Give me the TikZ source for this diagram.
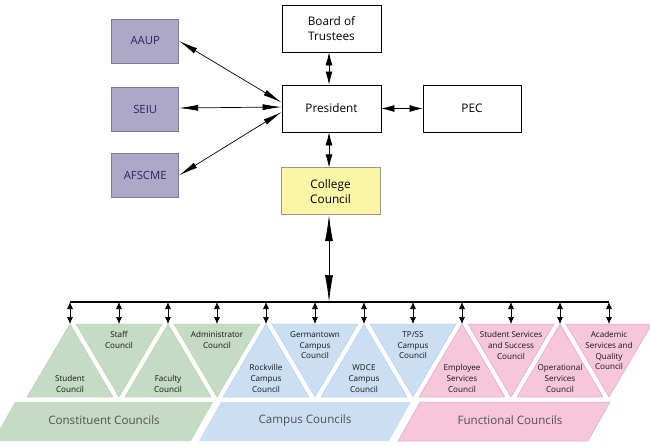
\documentclass[tikz,border=0pt]{standalone}
\usepackage{fontspec}
\setmainfont{Open Sans}
\usetikzlibrary{arrows.meta,calc}
\definecolor{unionfill}{RGB}{174,168,200}
\definecolor{unionedge}{RGB}{128,124,150}
\definecolor{uniontext}{RGB}{40,36,100}
\definecolor{ccfill}{RGB}{250,246,166}
\definecolor{ccedge}{RGB}{150,150,140}
\definecolor{grn}{RGB}{197,219,196}
\definecolor{grnedge}{RGB}{185,208,184}
\definecolor{blu}{RGB}{203,223,244}
\definecolor{bluedge}{RGB}{185,208,236}
\definecolor{pnk}{RGB}{246,198,218}
\definecolor{pnkedge}{RGB}{226,166,192}
\definecolor{grptext}{RGB}{80,80,80}
\begin{document}
\begin{tikzpicture}[x=1pt,y=-1pt,
  box/.style={draw=black,line width=0.8pt,fill=white,minimum width=99pt,minimum height=47pt,align=center,font=\fontsize{11.8}{15}\selectfont,inner sep=1pt},
  ubox/.style={draw=unionedge,line width=0.8pt,fill=unionfill,minimum width=67pt,minimum height=44pt,text=uniontext,font=\fontsize{11.3}{13}\selectfont,inner sep=1pt},
  ccbox/.style={box,draw=ccedge,fill=ccfill},
  uarr/.style={line width=0.7pt,{Latex[length=19pt,width=6pt]}-{Latex[length=19pt,width=6pt]}},
  varr/.style={line width=0.7pt,{Latex[length=13pt,width=7pt]}-{Latex[length=13pt,width=7pt]}},
  bigarr/.style={line width=0.7pt,{Latex[length=26pt,width=8pt]}-{Latex[length=27pt,width=8pt]}},
  smallarr/.style={line width=0.7pt,{Latex[length=7pt,width=6pt]}-{Latex[length=7pt,width=6pt]}},
  tlbl/.style={align=center,font=\fontsize{8.1}{10.7}\selectfont,inner sep=0pt,text=black!92},
  glbl/.style={font=\fontsize{11.6}{13}\selectfont,text=grptext,inner sep=0pt},
  tri/.style={line width=0.5pt}
]
\useasboundingbox (0,0) rectangle (650,445);

% top boxes
\node[box] (board) at (331.5,28.5) {Board of\\Trustees};
\node[box] (pres) at (331.5,108.5) {President};
\node[box,minimum width=98pt] (pec) at (472,108.5) {PEC};
\node[ccbox] (cc) at (330.5,191.3) {College\\Council};
\node[ubox] (aaup) at (145.2,41) {AAUP};
\node[ubox] (seiu) at (145.2,109.5) {SEIU};
\node[ubox] (afs) at (145.2,175.3) {AFSCME};

\draw[uarr] (aaup.east) -- ([yshift=6pt]pres.west);
\draw[uarr] ([yshift=1.5pt]seiu.east) -- ([yshift=1.5pt]pres.west);
\draw[uarr] (afs.east) -- ([yshift=-3.5pt]pres.west);
\draw[varr] (pres.east) -- (pec.west);
\draw[varr] ([xshift=-2.5pt]board.south) -- ([xshift=-2.5pt]pres.north);
\draw[varr] ([xshift=-2.5pt]pres.south) -- ([xshift=-1.5pt]cc.north);

% bus
\coordinate (busL) at (70,302);
\coordinate (busR) at (609,302);
\coordinate (busC) at (329,302);
\draw[line width=1.2pt] (busL) -- (busR);
\draw[bigarr] ([xshift=-1.5pt]cc.south) -- (busC);

% group bands
\fill[grn] (15,402) -- (213,402) -- (191,441) -- (-7,441) -- cycle;
\fill[blu] (221,402) -- (411,402) -- (389,441) -- (199,441) -- cycle;
\fill[pnk] (420,402) -- (610,402) -- (588,441) -- (398,441) -- cycle;
\draw[pnkedge,line width=0.5pt] (420,402) -- (610,402) -- (588,441) -- (398,441) -- cycle;
\node[glbl] (gcon) at (104,420) {Constituent Councils};
\node[glbl] (gcam) at (305,420) {Campus Councils};
\node[glbl] (gfun) at (510,420) {Functional Councils};

% up triangles
\foreach \i/\c/\t in {0/grn/{Student\\Council},2/grn/{Faculty\\Council},4/blu/{Rockville\\Campus\\Council},6/blu/{WDCE\\Campus\\Council},8/pnk/{Employee\\Services\\Council},10/pnk/{Operational\\Services\\Council}}{
  \pgfmathsetmacro{\xx}{70+49*\i}
  \filldraw[tri,fill=\c,draw=\c edge] (\xx,324) -- (\xx+43,397) -- (\xx-43,397) -- cycle;
  \coordinate (tri\i) at (\xx,324);
  \node[tlbl,anchor=south] (lbl\i) at (\xx,392.5) {\t};
}
% down triangles
\foreach \i/\c/\t in {1/grn/{Staff\\Council},3/grn/{Administrator\\Council},5/blu/{Germantown\\Campus\\Council},7/blu/{TP/SS\\Campus\\Council},9/pnk/{Student Services\\and Success\\Council},11/pnk/{Academic\\Services and\\Quality\\Council}}{
  \pgfmathsetmacro{\xx}{70+49*\i}
  \filldraw[tri,fill=\c,draw=\c edge] (\xx-43,324) -- (\xx+43,324) -- (\xx,397) -- cycle;
  \coordinate (tri\i) at (\xx,324);
  \node[tlbl,anchor=north] (lbl\i) at (\xx,331.5) {\t};
}
% drop arrows
\foreach \i in {0,...,11}{
  \pgfmathsetmacro{\xx}{70+49*\i}
  \coordinate (bus\i) at (\xx,302);
  \draw[smallarr] (bus\i) -- (tri\i);
}
\end{tikzpicture}
\end{document}
